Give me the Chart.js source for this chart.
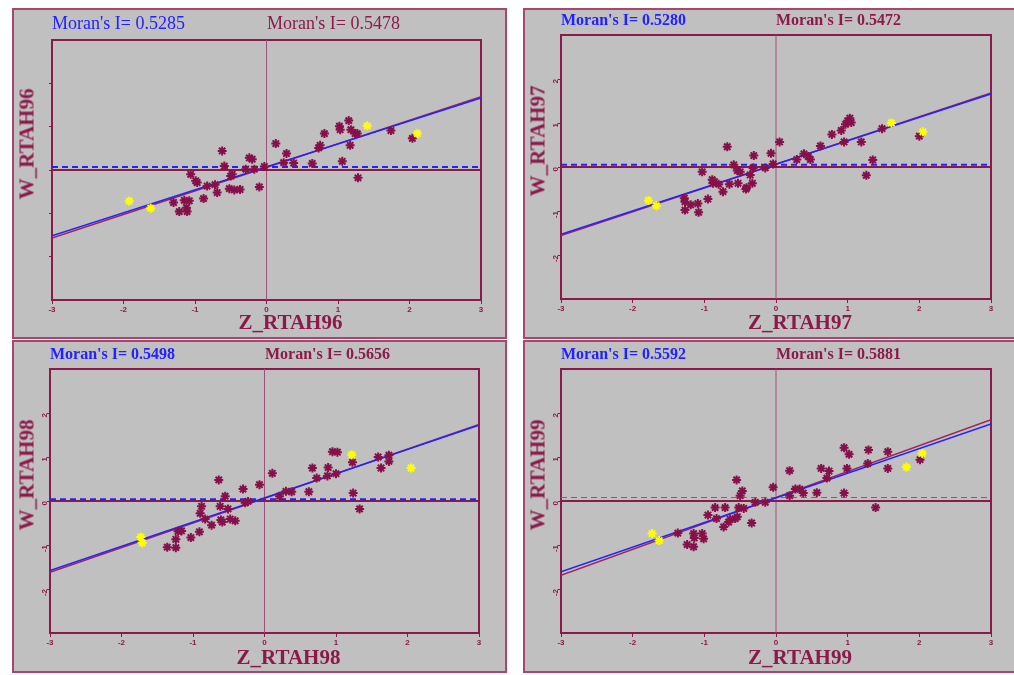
<!DOCTYPE html>
<html>
<head>
<meta charset="utf-8">
<script src="https://cdn.jsdelivr.net/npm/chart.js@4.4.0/dist/chart.umd.min.js"></script>
<style>
  html, body { margin: 0; padding: 0; background: #fff; }
  body { width: 1014px; height: 675px; position: relative; overflow: hidden; font-family: "Liberation Serif", "Times New Roman", serif; }
  .box { position: absolute; background: #c0c0c0; border: 2px solid #a8466f; box-sizing: border-box; }
  .cv { position: absolute; }
  .txt { position: absolute; white-space: nowrap; line-height: 1; }
  .axt { font-weight: bold; font-size: 21px; color: #8b1a4a; }
</style>
</head>
<body>
<script>
// axes
const xTicks = [-3, -2, -1, 0, 1, 2, 3];
const yTicks = [-2, -1, 0, 1, 2];
const years = ['96', '97', '98', '99'];
const moranBlue = ['0.5285', '0.5280', '0.5498', '0.5592'];
const moranRed = ['0.5478', '0.5472', '0.5656', '0.5881'];

// Z (x) / W (y) pairs
const pts96 = [[-0.62,0.44],[-0.59,0.09],[-1.06,-0.10],[-0.97,-0.29],[-0.99,-0.25],[-0.83,-0.37],[-0.72,-0.34],[-0.69,-0.52],[-0.88,-0.66],[-1.30,-0.75],[-1.15,-0.70],[-1.08,-0.71],[-1.22,-0.96],[-1.11,-0.96],[-1.12,-0.87],[-0.50,-0.14],[-0.48,-0.10],[-0.52,-0.43],[-0.45,-0.46],[-0.37,-0.45],[-0.24,0.28],[-0.20,0.25],[-0.17,0.02],[-0.29,0.02],[-0.10,-0.39],[-0.03,0.08],[0.13,0.61],[0.24,0.17],[0.28,0.38],[0.38,0.16],[0.64,0.15],[0.73,0.51],[0.75,0.57],[0.81,0.84],[1.02,1.01],[1.03,0.93],[1.15,1.14],[1.18,0.93],[1.24,0.84],[1.27,0.84],[1.17,0.57],[1.06,0.20],[1.28,-0.18],[1.74,0.91],[2.04,0.73]];
const hi96 = [[-1.92,-0.72],[-1.62,-0.88],[1.41,1.02],[2.11,0.84]];

const pts97 = [[-0.68,0.46],[-1.03,-0.11],[-0.89,-0.29],[-0.88,-0.37],[-0.80,-0.39],[-0.86,-0.33],[-0.74,-0.56],[-0.65,-0.39],[-0.59,0.05],[-0.54,-0.08],[-0.50,-0.11],[-0.53,-0.37],[-0.42,-0.50],[-0.41,-0.47],[-0.36,-0.18],[-0.33,-0.37],[-0.31,0.26],[-0.32,-0.02],[-0.15,-0.02],[-0.07,0.31],[-0.04,0.07],[0.05,0.57],[-1.28,-0.71],[-1.27,-0.79],[-1.27,-0.98],[-1.19,-0.86],[-1.09,-0.83],[-1.08,-1.03],[-0.95,-0.73],[0.29,0.17],[0.39,0.30],[0.45,0.24],[0.48,0.17],[0.62,0.48],[0.78,0.74],[0.91,0.83],[0.95,0.57],[0.97,0.97],[1.00,1.05],[1.03,1.11],[1.05,1.01],[1.19,0.57],[1.35,0.16],[1.26,-0.19],[1.48,0.87],[2.00,0.70]];
const hi97 = [[-1.78,-0.76],[-1.67,-0.88],[1.61,1.00],[2.05,0.80]];

const pts98 = [[-0.64,0.48],[-0.55,0.11],[-0.62,-0.12],[-0.88,-0.12],[-0.90,-0.28],[-0.83,-0.41],[-0.74,-0.55],[-0.61,-0.43],[-0.59,-0.48],[-0.51,-0.18],[-0.48,-0.41],[-0.41,-0.45],[-0.30,0.27],[-0.27,-0.04],[-0.23,-0.01],[-0.07,0.37],[0.11,0.63],[0.21,0.11],[0.30,0.22],[0.38,0.21],[0.62,0.21],[0.67,0.75],[0.73,0.52],[0.88,0.57],[0.89,0.76],[0.95,1.12],[1.02,1.11],[1.00,0.62],[1.23,0.88],[1.24,0.18],[1.33,-0.18],[1.59,1.00],[1.63,0.75],[1.74,1.04],[1.74,0.90],[-1.36,-1.05],[-1.24,-0.87],[-1.24,-1.06],[-1.21,-0.69],[-1.16,-0.68],[-1.03,-0.83],[-0.91,-0.70]];
const hi98 = [[-1.73,-0.82],[-1.71,-0.95],[1.22,1.05],[2.05,0.75]];

const pts99 = [[-0.55,0.48],[-0.47,0.23],[-0.50,0.12],[-0.52,-0.15],[-0.45,-0.17],[-0.54,-0.36],[-0.57,-0.40],[-0.64,-0.42],[-0.66,-0.48],[-0.73,-0.59],[-0.71,-0.15],[-0.85,-0.15],[-0.83,-0.40],[-0.95,-0.32],[-0.34,-0.50],[-0.29,-0.03],[-0.15,-0.03],[-0.04,0.31],[0.19,0.69],[0.19,0.12],[0.27,0.27],[0.33,0.27],[0.38,0.18],[0.57,0.19],[0.63,0.74],[0.74,0.68],[0.71,0.52],[0.95,1.21],[1.02,1.06],[0.99,0.74],[0.95,0.18],[1.29,1.16],[1.28,0.85],[1.56,1.12],[1.56,0.74],[2.01,0.94],[1.39,-0.15],[-1.37,-0.73],[-1.24,-0.99],[-1.15,-1.04],[-1.15,-0.74],[-1.14,-0.84],[-1.03,-0.74],[-1.01,-0.86]];
const hi99 = [[-1.73,-0.74],[-1.63,-0.90],[1.82,0.77],[2.04,1.08]];

// fitted lines: W at Z=-3 and Z=3, and mean of W (dashed)
const fitBlue = [[-1.52, 1.66], [-1.53, 1.66], [-1.58, 1.72], [-1.61, 1.75]];
const fitRed = [[-1.57, 1.69], [-1.56, 1.68], [-1.62, 1.74], [-1.69, 1.85]];
const meanW = [0.07, 0.05, 0.04, 0.08];

const points = [pts96, pts97, pts98, pts99];
const highlights = [hi96, hi97, hi98, hi99];

const maroon = '#8b1a4a';
const blue = '#2222ff';

// box = outer frame, plot = chart area (left, top, right, bottom)
const panels = [
  { box: [12, 8, 507, 339], plot: [52, 40, 481, 300], titleY: 23, xTitleY: 322, bold: false, yLabels: false, thinMean: false },
  { box: [523, 8, 1017, 339], plot: [561, 35, 991, 299], titleY: 20, xTitleY: 322, bold: true, yLabels: true, thinMean: false },
  { box: [12, 340, 507, 673], plot: [50, 369, 479, 633], titleY: 354, xTitleY: 657, bold: true, yLabels: true, thinMean: false },
  { box: [523, 340, 1017, 673], plot: [561, 369, 991, 633], titleY: 354, xTitleY: 657, bold: true, yLabels: true, thinMean: true }
];

const framePlugin = {
  id: 'frame',
  beforeDatasetsDraw(chart) {
    const { ctx, chartArea: a } = chart;
    ctx.save();
    ctx.strokeStyle = maroon;
    ctx.lineWidth = 2;
    ctx.strokeRect(a.left, a.top, a.right - a.left, a.bottom - a.top);
    ctx.restore();
  }
};

function addText(text, css) {
  const d = document.createElement('div');
  d.className = 'txt ' + (css.cls || '');
  d.textContent = text;
  Object.assign(d.style, css.style);
  document.body.appendChild(d);
}

function seg(x0, y0, x1, y1) {
  return [{ x: x0, y: y0 }, { x: x1, y: y1 }];
}

panels.forEach((p, i) => {
  const [bl, bt, br, bb] = p.box;
  const [pl, pt, pr, pb] = p.plot;

  const frame = document.createElement('div');
  frame.className = 'box';
  Object.assign(frame.style, { left: bl + 'px', top: bt + 'px', width: (br - bl) + 'px', height: (bb - bt) + 'px' });
  document.body.appendChild(frame);

  const wrap = document.createElement('div');
  wrap.className = 'cv';
  Object.assign(wrap.style, { left: bl + 'px', top: bt + 'px', width: (br - bl) + 'px', height: (bb - bt) + 'px' });
  const cv = document.createElement('canvas');
  wrap.appendChild(cv);
  document.body.appendChild(wrap);

  const toXY = arr => arr.map(([x, y]) => ({ x, y }));

  new Chart(cv, {
    type: 'scatter',
    data: {
      datasets: [
        { data: toXY(highlights[i]), pointStyle: 'star', radius: 4.5, borderWidth: 2, borderColor: '#ffff00', backgroundColor: '#ffff00', order: 0 },
        { data: toXY(points[i]), pointStyle: 'star', radius: 4.5, borderWidth: 2, borderColor: '#86104a', backgroundColor: '#86104a', order: 1 },
        { data: seg(-3, fitBlue[i][0], 3, fitBlue[i][1]), showLine: true, pointRadius: 0, borderColor: blue, borderWidth: 1.5, order: 2 },
        { data: seg(-3, fitRed[i][0], 3, fitRed[i][1]), showLine: true, pointRadius: 0, borderColor: '#a02458', borderWidth: 1.5, order: 3 },
        { data: seg(-3, meanW[i], 3, meanW[i]), showLine: true, pointRadius: 0, borderColor: p.thinMean ? '#5a5aff' : blue,
          borderWidth: p.thinMean ? 1.2 : 2, borderDash: [6, 4], order: 4 },
        { data: seg(-3, 0, 3, 0), showLine: true, pointRadius: 0, borderColor: maroon, borderWidth: 2, order: 5 },
        { data: seg(0, -3, 0, 3), showLine: true, pointRadius: 0, borderColor: '#a05078', borderWidth: 1, order: 6 }
      ]
    },
    options: {
      responsive: true,
      maintainAspectRatio: false,
      animation: false,
      layout: { padding: { left: 0, top: pt - bt, right: br - pr, bottom: 0 } },
      plugins: { legend: { display: false }, tooltip: { enabled: false } },
      scales: {
        x: {
          type: 'linear', min: -3, max: 3,
          afterBuildTicks: s => { s.ticks = xTicks.map(v => ({ value: v })); },
          afterFit: s => { s.height = bb - pb; },
          grid: { drawOnChartArea: false, drawTicks: true, tickLength: 4, color: maroon },
          border: { display: false },
          ticks: { color: maroon, padding: 1, font: { family: 'Liberation Sans', size: 8, weight: 'bold' }, maxRotation: 0 }
        },
        y: {
          type: 'linear', min: -3, max: 3,
          afterBuildTicks: s => { s.ticks = yTicks.map(v => ({ value: v })); },
          afterFit: s => { s.width = pl - bl; },
          grid: { drawOnChartArea: false, drawTicks: true, tickLength: 3, color: maroon },
          border: { display: false },
          ticks: { display: p.yLabels, color: maroon, padding: 2, minRotation: 90, maxRotation: 90,
            font: { family: 'Liberation Sans', size: 8, weight: 'bold' } }
        }
      }
    },
    plugins: [framePlugin]
  });

  const titleFont = p.bold ? { fontSize: '16px', fontWeight: 'bold' } : { fontSize: '18px', fontWeight: 'normal' };
  addText("Moran's I= " + moranBlue[i], { style: Object.assign({ left: pl + 'px', top: p.titleY + 'px', transform: 'translateY(-50%)', color: blue }, titleFont) });
  addText("Moran's I= " + moranRed[i], { style: Object.assign({ left: Math.round((pl + pr) / 2) + 'px', top: p.titleY + 'px', transform: 'translateY(-50%)', color: maroon }, titleFont) });
  addText('Z_RTAH' + years[i], { cls: 'axt', style: { left: ((pl + pr) / 2 + 24) + 'px', top: p.xTitleY + 'px', transform: 'translate(-50%, -50%)' } });
  addText('W_RTAH' + years[i], { cls: 'axt', style: { left: (bl + 15) + 'px', top: ((pt + pb) / 2 - 26) + 'px', transform: 'translate(-50%, -50%) rotate(-90deg)' } });
});
</script>
</body>
</html>
